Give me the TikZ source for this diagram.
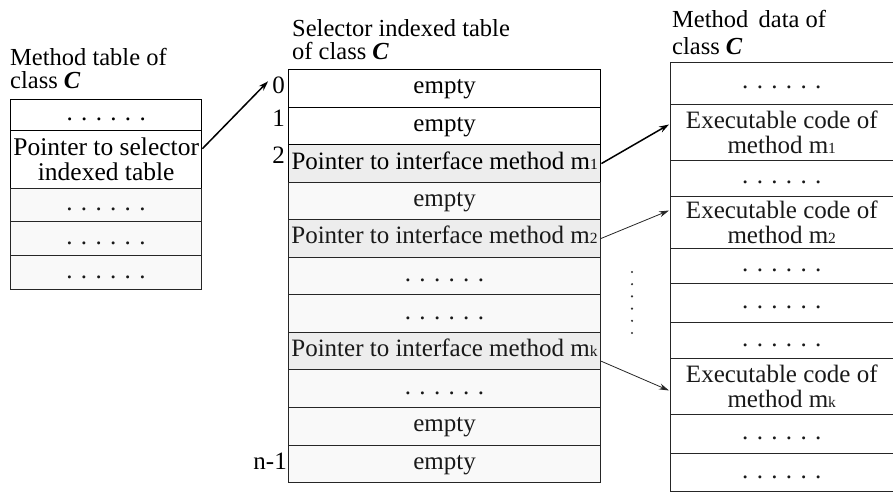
\documentclass[tikz,border=0pt]{standalone}
\usepackage{fontspec}
\setmainfont{Liberation Serif}
\usetikzlibrary{arrows.meta,calc}
\newcommand\sixdots{. . . . . .}
\newcommand\idx[1]{{\fontsize{15.5}{15.5}\selectfont #1}}
\newcommand\clsC{\textbf{\textit{C}}}

\begin{document}
\begin{tikzpicture}[x=1pt,y=-1pt,
  txt/.style={font=\fontsize{25}{25}\selectfont},
  cell/.style={draw=black!85, line width=1pt, anchor=north west, inner sep=0pt,
               txt, align=center, text=black!90},
  one/.style={text height=16pt, text depth=5pt},
  strong/.style={draw=black, line width=1.4pt, text=black},
  ptr/.style={fill=gray!14},
  shade/.style={fill=gray!5},
  lcell/.style={cell, minimum width=191pt},
  mcell/.style={cell, one, minimum width=312pt, minimum height=37.55pt},
  rcell/.style={cell, minimum width=222.5pt},
  title/.style={font=\fontsize{24.5}{25}\selectfont, anchor=base west, inner sep=0pt},
  index/.style={txt, anchor=base east, inner sep=0pt},
  boldlink/.style={-{Stealth[length=10pt,width=6.5pt]}, line width=1.5pt},
  thinlink/.style={-{Stealth[length=10pt,width=6pt]}, line width=0.8pt, black!85}
]
\useasboundingbox (0,0) rectangle (893,494);

% ---- method table of class C ----
\node[title] (lta) at (10,66) {Method table of};
\node[title] (ltb) at (10,89) {class \clsC};
\node[lcell, one, strong, minimum height=31pt] (l0) at (10,99) {\sixdots};
\node[lcell, strong, minimum height=58pt, font=\fontsize{25.5}{25}\selectfont] (l1) at (10,130) {Pointer to selector\\indexed table};
\node[lcell, one, shade, minimum height=33pt] (l2) at (10,188) {\sixdots};
\node[lcell, one, shade, minimum height=34pt] (l3) at (10,221) {\sixdots};
\node[lcell, one, shade, minimum height=34pt] (l4) at (10,255) {\sixdots};

% ---- selector indexed table ----
\node[title] (mta) at (292,37) {Selector indexed table};
\node[title] (mtb) at (292,60) {of class \clsC};
\node[mcell, strong] (m0) at (288,69) {empty};
\node[mcell, strong] (m1) at (288,106.55) {empty};
\node[mcell, strong, ptr] (m2) at (288,144.1) {Pointer to interface method m\idx{1}};
\node[mcell, shade] (m3) at (288,181.65) {empty};
\node[mcell, ptr] (m4) at (288,219.2) {Pointer to interface method m\idx{2}};
\node[mcell, shade] (m5) at (288,256.75) {\sixdots};
\node[mcell, shade] (m6) at (288,294.3) {\sixdots};
\node[mcell, ptr] (m7) at (288,331.85) {Pointer to interface method m\idx{k}};
\node[mcell, shade] (m8) at (288,369.4) {\sixdots};
\node[mcell, shade] (m9) at (288,406.95) {empty};
\node[mcell, shade] (m10) at (288,444.5) {empty};

\node[index] (i0) at ($(m0.west)+(-3,5)$) {0};
\node[index] (i1) at ($(m1.west)+(-3,0)$) {1};
\node[index] (i2) at ($(m2.west)+(-3,0)$) {2};
\node[index] (in) at ($(m10.west)+(-1,6)$) {n-1};

% ---- method data of class C ----
\node[title] (rta) at (672,28) {Method\, data of};
\node[title] (rtb) at (672,55) {class \clsC};
\node[rcell, one, minimum height=42pt] (r0) at (670,62) {\sixdots};
\node[rcell, minimum height=56pt] (r1) at (670,104) {Executable code of\\method m\idx{1}};
\node[rcell, one, minimum height=36pt] (r2) at (670,160) {\sixdots};
\node[rcell, minimum height=52pt] (r3) at (670,196) {Executable code of\\method m\idx{2}};
\node[rcell, one, minimum height=35pt] (r4) at (670,248) {\sixdots};
\node[rcell, one, minimum height=39pt] (r5) at (670,283) {\sixdots};
\node[rcell, one, minimum height=36pt] (r6) at (670,322) {\sixdots};
\node[rcell, minimum height=56pt] (r7) at (670,358) {Executable code of\\method m\idx{k}};
\node[rcell, one, minimum height=39pt] (r8) at (670,414) {\sixdots};
\node[rcell, one, minimum height=38pt] (r9) at (670,453) {\sixdots};

% omitted entries between the pointer rows
\foreach \y in {272,284.2,296.4,308.6,320.8,333}
  \fill[black!80] (632,\y) circle (1.2pt);

% ---- links ----
\draw[boldlink] ($(l1.east)+(0,-11)$) -- ($(i0.west)+(-4,-4)$);
\draw[boldlink] (m2.east) -- ($(r1.west)+(-1,-8)$);
\draw[thinlink] (m4.east) -- ($(r3.west)+(-1,-12)$);
\draw[thinlink] ($(m7.east)+(0,10)$) -- ($(r7.west)+(-1,4)$);
\end{tikzpicture}
\end{document}
